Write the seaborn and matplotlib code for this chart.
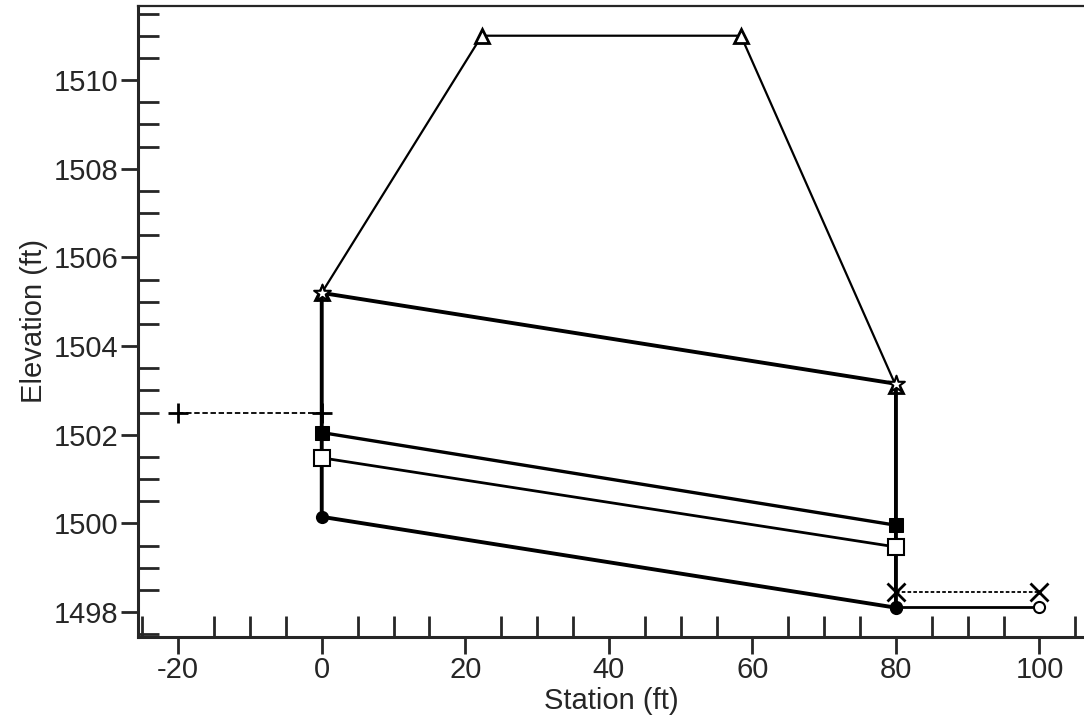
import matplotlib
matplotlib.use("Agg")
import matplotlib.pyplot as plt
import seaborn as sns
from matplotlib.ticker import MultipleLocator

# culvert profile values (station ft, elevation ft)
culvert_x = [0, 80, 80, 0, 0]
culvert_y = [1500.15, 1498.1, 1503.15, 1505.2, 1500.15]
invert_x = [0, 80]
invert_y = [1500.15, 1498.1]
crown_x = [0, 80]
crown_y = [1505.2, 1503.15]
road_x = [0, 22.3, 58.4, 80]
road_y = [1505.2, 1511.0, 1511.0, 1503.1]
wsel_x = [0, 80]
wsel_y = [1502.05, 1499.96]
egl_x = [0, 80]
egl_y = [1501.48, 1499.47]
us_x = [-20, 0]
us_y = [1502.48, 1502.48]
tw_x = [80, 100]
tw_y = [1498.45, 1498.45]
chan_x = [80, 100]
chan_y = [1498.12, 1498.12]

sns.set_style("ticks")
plt.rcParams['font.family'] = ['Liberation Sans', 'DejaVu Sans']
plt.rcParams['font.size'] = 21
plt.rcParams['axes.unicode_minus'] = False

fig = plt.figure(figsize=(10.84, 7.23), dpi=100)
ax = fig.add_axes([0.1273, 0.119, 0.8727, 0.8727])

# road / embankment
sns.lineplot(x=road_x, y=road_y, sort=False, estimator=None, color='k', lw=1.6,
             marker='^', markersize=10, markerfacecolor='white', markeredgecolor='k',
             markeredgewidth=2, ax=ax)
# culvert barrel outline
sns.lineplot(x=culvert_x, y=culvert_y, sort=False, estimator=None, color='k', lw=2.8, ax=ax)
# water surface lines
sns.lineplot(x=wsel_x, y=wsel_y, sort=False, estimator=None, color='k', lw=2.4,
             marker='s', markersize=10, markerfacecolor='k', markeredgecolor='k', ax=ax)
sns.lineplot(x=egl_x, y=egl_y, sort=False, estimator=None, color='k', lw=2.0,
             marker='s', markersize=11, markerfacecolor='white', markeredgecolor='k',
             markeredgewidth=1.5, ax=ax)
# upstream / tailwater levels
sns.lineplot(x=us_x, y=us_y, sort=False, estimator=None, color='k', lw=1.3, ls=(0, (3, 1.5)),
             marker='+', markersize=14, markeredgewidth=2, markeredgecolor='k', ax=ax)
sns.lineplot(x=tw_x, y=tw_y, sort=False, estimator=None, color='k', lw=1.3, ls=(0, (2, 1.2)),
             marker='x', markersize=13, markeredgewidth=2, markeredgecolor='k', ax=ax)
sns.lineplot(x=chan_x, y=chan_y, sort=False, estimator=None, color='k', lw=2.0,
             marker='o', markersize=8, markerfacecolor='white', markeredgecolor='k',
             markeredgewidth=1.5, ax=ax)
# point markers on the barrel
sns.scatterplot(x=invert_x, y=invert_y, color='k', s=90, marker='o', linewidth=0, ax=ax, zorder=5)
sns.scatterplot(x=crown_x, y=crown_y, color='white', s=160, marker='*', edgecolor='k',
                linewidth=1.5, ax=ax, zorder=5)

ax.set_xlim(-25.6, 106.2)
ax.set_ylim(1497.44, 1511.67)
ax.xaxis.set_major_locator(MultipleLocator(20))
ax.xaxis.set_minor_locator(MultipleLocator(5))
ax.yaxis.set_major_locator(MultipleLocator(2))
ax.yaxis.set_minor_locator(MultipleLocator(0.5))
ax.tick_params(which='major', direction='out', length=12, width=2, pad=2, labelsize=21)
ax.tick_params(which='minor', direction='in', length=15, width=2)

for side in ['left', 'bottom']:
    ax.spines[side].set_linewidth(2.2)
ax.spines['top'].set_linewidth(1.6)
ax.spines['right'].set_visible(False)

ax.set_xlabel('Station (ft)', fontsize=21, labelpad=2)
ax.set_ylabel('Elevation (ft)', fontsize=21, labelpad=4)

fig.savefig('out.png', dpi=100)
